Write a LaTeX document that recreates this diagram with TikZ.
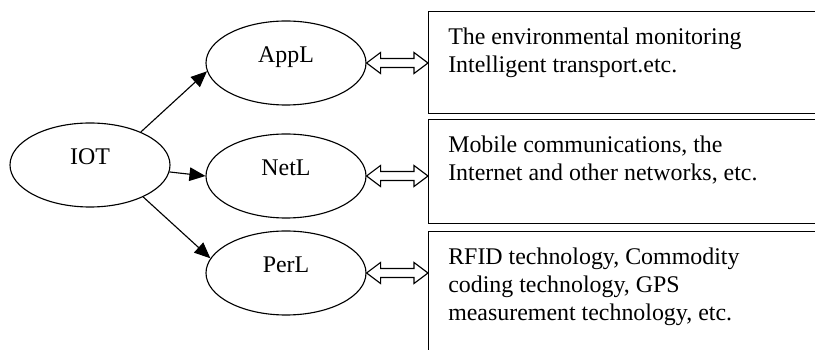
\documentclass[tikz,border=0pt]{standalone}
\usepackage{fontspec}
\setmainfont{Liberation Serif}
\usetikzlibrary{shapes.geometric,arrows.meta,calc}

\begin{document}
\begin{tikzpicture}[x=1cm,y=1cm]
  \tikzset{
    layer/.style={ellipse,draw,line width=0.8pt,minimum width=4cm,minimum height=2.1cm,
      inner sep=0pt,text height=0.4cm,text depth=0.4cm,font=\fontsize{17}{20}\selectfont},
    infobox/.style={rectangle,draw,line width=1pt,anchor=north west,minimum width=10.6cm,inner sep=0pt},
    desc/.style={anchor=north west,align=left,inner sep=0pt,font=\fontsize{17}{20}\selectfont},
    feed/.style={line width=0.8pt,-{Triangle[length=0.4cm,width=0.34cm]}},
    biarrow/.style={draw,line width=0.8pt,line join=miter,
      to path={(\tikztostart) -- ++(0.35,0.2625) -- ++(0,-0.15)
        -- ($(\tikztotarget)+(-0.35,0.1125)$) -- ++(0,0.15) -- (\tikztotarget)
        -- ++(-0.35,-0.2625) -- ++(0,0.15) -- ($(\tikztostart)+(0.35,-0.1125)$)
        -- ++(0,-0.15) -- cycle}},
  }
  \clip (0,0) rectangle (20.375,8.75);

  % Root and the three layers.
  \node[layer] (iot) at (2.25,4.625) {IOT};
  \node[layer] (appl) at (7.15,7.175) {AppL};
  \node[layer] (netl) at (7.15,4.35) {NetL};
  \node[layer] (perl) at (7.15,1.925) {PerL};

  \draw[feed] (iot.33) -- (appl.186);
  \draw[feed] (iot.-5) -- (netl.west);
  \draw[feed] (iot.-31) -- (perl.169);

  % Boxes run past the right and bottom edge.
  \node[infobox,minimum height=2.55cm] (appbox) at (10.7,8.475) {};
  \node[infobox,minimum height=2.6cm] (netbox) at (10.7,5.775) {};
  \node[infobox,minimum height=3.5cm] (perbox) at (10.7,2.975) {};

  \node[desc] (apptext) at ([xshift=0.5cm,yshift=-0.415cm]appbox.north west)
    {The environmental monitoring\\Intelligent transport.etc.};
  \node[desc] (nettext) at ([xshift=0.5cm,yshift=-0.415cm]netbox.north west)
    {Mobile communications, the\\Internet and other networks, etc.};
  \node[desc] (pertext) at ([xshift=0.5cm,yshift=-0.415cm]perbox.north west)
    {RFID technology, Commodity\\coding technology, GPS\\measurement technology, etc.};

  \coordinate (append) at (appl.east -| appbox.west);
  \coordinate (netend) at (netl.east -| netbox.west);
  \coordinate (perend) at (perl.east -| perbox.west);
  \draw[biarrow] (appl.east) to (append);
  \draw[biarrow] (netl.east) to (netend);
  \draw[biarrow] (perl.east) to (perend);
\end{tikzpicture}
\end{document}
